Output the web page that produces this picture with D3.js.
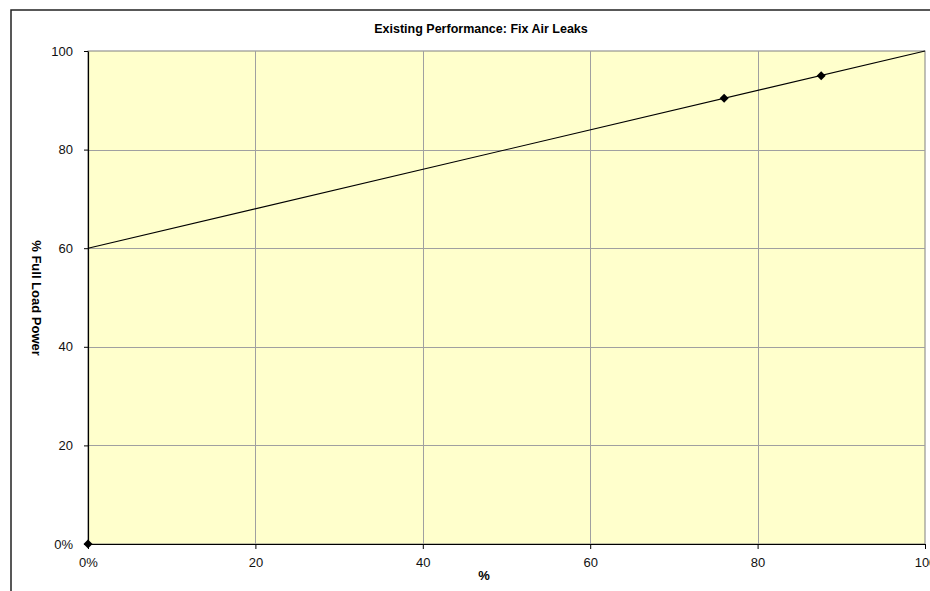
<!DOCTYPE html>
<html>
<head>
<meta charset="utf-8">
<script src="https://cdn.jsdelivr.net/npm/d3@7"></script>
<style>
  html, body { margin: 0; padding: 0; background: #fff; }
  svg { display: block; font-family: "Liberation Sans", Arial, sans-serif; }
</style>
</head>
<body>
<svg id="chart" width="930" height="591"></svg>
<script>
// Measured operating points (% capacity, % full load power)
const pointX = [0, 76.0, 87.6];
const pointY = [0, 90.4, 95.0];
// Part-load power curve endpoints
const curveX = [0, 100];
const curveY = [60, 100];
// Tick values
const xTicks = [0, 20, 40, 60, 80, 100];
const yTicks = [0, 20, 40, 60, 80, 100];

const title = "Existing Performance: Fix Air Leaks";
const xTitle = "%";
const yTitle = "% Full Load Power";

const svg = d3.select("#chart");
const plot = { left: 88, top: 51, right: 925, bottom: 544 };

// Outer chart frame (extends past the window on right and bottom)
svg.append("rect")
  .attr("x", 11).attr("y", 10)
  .attr("width", 1000).attr("height", 700)
  .attr("fill", "#fff").attr("stroke", "#222").attr("stroke-width", 1.5);

const x = d3.scaleLinear().domain([0, 100]).range([plot.left, plot.right]);
const y = d3.scaleLinear().domain([0, 100]).range([plot.bottom, plot.top]);

// Plot background
svg.append("rect")
  .attr("x", plot.left).attr("y", plot.top)
  .attr("width", plot.right - plot.left).attr("height", plot.bottom - plot.top)
  .attr("fill", "#FFFFCC").attr("stroke", "#808080").attr("stroke-width", 1);

// Gridlines
const grid = svg.append("g").attr("stroke", "#a0a0a0").attr("stroke-width", 1);
grid.selectAll(".gx").data(xTicks.filter(d => d > 0 && d < 100)).enter().append("line")
  .attr("x1", d => Math.round(x(d)) + 0.5).attr("x2", d => Math.round(x(d)) + 0.5)
  .attr("y1", plot.top).attr("y2", plot.bottom);
grid.selectAll(".gy").data(yTicks.filter(d => d > 0 && d < 100)).enter().append("line")
  .attr("y1", d => Math.round(y(d)) + 0.5).attr("y2", d => Math.round(y(d)) + 0.5)
  .attr("x1", plot.left).attr("x2", plot.right);

// Axes
const fmt = d => d === 0 ? "0%" : String(d);
const xAxis = d3.axisBottom(x).tickValues(xTicks).tickFormat(fmt).tickSizeInner(5).tickSizeOuter(0).tickPadding(9);
const yAxis = d3.axisLeft(y).tickValues(yTicks).tickFormat(fmt).tickSizeInner(4).tickSizeOuter(0).tickPadding(11);

const gx = svg.append("g").attr("transform", `translate(0,${plot.bottom})`).call(xAxis);
const gy = svg.append("g").attr("transform", `translate(${plot.left},0)`).call(yAxis);
[gx, gy].forEach(g => {
  g.select(".domain").attr("stroke", "#000").attr("stroke-width", 1.2);
  g.selectAll(".tick line").attr("stroke", "#000");
  g.selectAll(".tick text").attr("fill", "#111").style("font-size", "13px")
    .style("font-family", "'Liberation Sans', Arial, sans-serif");
});

// Power curve
const line = d3.line().x(d => x(d[0])).y(d => y(d[1]));
svg.append("path")
  .datum(d3.zip(curveX, curveY))
  .attr("d", line)
  .attr("fill", "none").attr("stroke", "#000").attr("stroke-width", 1.1);

// Operating point markers (square diamonds)
const r = 4.5;
svg.selectAll(".pt").data(d3.zip(pointX, pointY)).enter().append("path")
  .attr("d", `M0,${-r}L${r},0L0,${r}L${-r},0Z`)
  .attr("transform", d => `translate(${x(d[0])},${y(d[1])})`)
  .attr("fill", "#000");

// Titles
svg.append("text")
  .attr("x", 481).attr("y", 33)
  .attr("text-anchor", "middle")
  .style("font-size", "12.5px").style("font-weight", "bold")
  .text(title);

svg.append("text")
  .attr("x", 484).attr("y", 580)
  .attr("text-anchor", "middle")
  .style("font-size", "13px").style("font-weight", "bold")
  .text(xTitle);

svg.append("text")
  .attr("transform", "translate(32,298) rotate(90)")
  .attr("text-anchor", "middle")
  .style("font-size", "13px").style("font-weight", "bold")
  .text(yTitle);
</script>
</body>
</html>
